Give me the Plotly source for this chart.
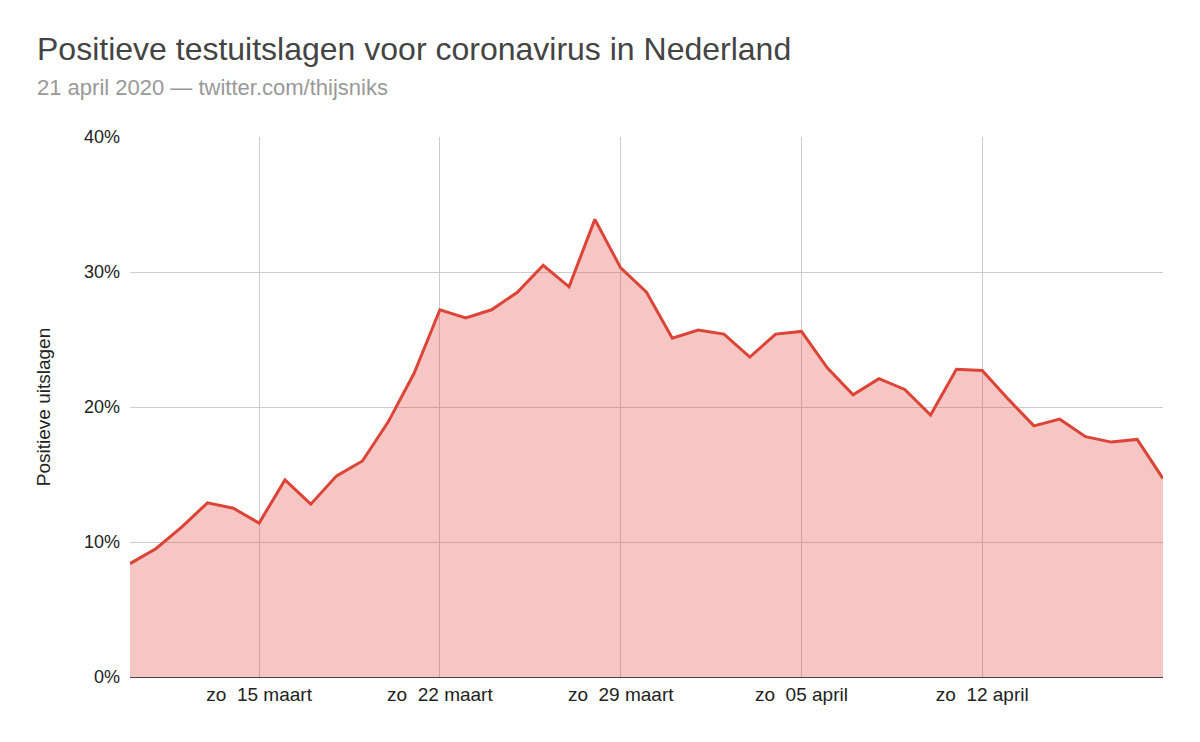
import plotly.graph_objects as go
import pandas as pd

# Data (percentage of positive tests per day)
dates = pd.date_range("2020-03-10", "2020-04-19", freq="D").strftime("%Y-%m-%d").tolist()
positive_pct = [
    8.4, 9.5, 11.1, 12.9, 12.5, 11.4, 14.6, 12.8, 14.9, 16.0,
    18.9, 22.5, 27.2, 26.6, 27.2, 28.5, 30.5, 28.9, 33.9, 30.3,
    28.5, 25.1, 25.7, 25.4, 23.7, 25.4, 25.6, 22.9, 20.9, 22.1,
    21.3, 19.4, 22.8, 22.7, 20.6, 18.6, 19.1, 17.8, 17.4, 17.6,
    14.7,
]
tick_dates = ["2020-03-15", "2020-03-22", "2020-03-29", "2020-04-05", "2020-04-12", "2020-04-19"]
tick_labels = ["zo\u00a0\u00a015 maart", "zo\u00a0\u00a022 maart", "zo\u00a0\u00a029 maart",
               "zo\u00a0\u00a005 april", "zo\u00a0\u00a012 april", ""]
y_ticks = [0, 10, 20, 30, 40]
y_tick_labels = ["0%", "10%", "20%", "30%", "40%"]

title_text = "Positieve testuitslagen voor coronavirus in Nederland"
subtitle_text = "21 april 2020 \u2014 twitter.com/thijsniks"
y_title = "Positieve uitslagen"

W, H = 1200, 742
L, R, T, B = 130, 37, 137, 65
plot_h = H - T - B

def py(px):
    return (H - B - px) / plot_h

fig = go.Figure()
fig.add_trace(go.Scatter(
    x=dates, y=positive_pct, mode="lines",
    line=dict(color="#db4437", width=3),
    fill="tozeroy", fillcolor="rgba(222,66,56,0.3)",
    hoverinfo="x+y",
))

font_family = "Arial, Liberation Sans, sans-serif"

fig.update_layout(
    width=W, height=H,
    margin=dict(l=L, r=R, t=T, b=B),
    paper_bgcolor="white", plot_bgcolor="white",
    showlegend=False,
    font=dict(family=font_family, color="#222"),
    xaxis=dict(
        type="date",
        range=[dates[0], dates[-1]],
        tickmode="array", tickvals=tick_dates, ticktext=tick_labels,
        showgrid=True, gridcolor="#cccccc", gridwidth=1,
        showline=True, linecolor="#444444", linewidth=1,
        ticks="", tickfont=dict(size=19, color="#222", family=font_family),
        zeroline=False, fixedrange=True,
    ),
    yaxis=dict(
        range=[0, 40],
        tickmode="array", tickvals=y_ticks, ticktext=y_tick_labels,
        showgrid=True, gridcolor="#cccccc", gridwidth=1,
        zeroline=False, showline=False,
        ticks="", ticklabelstandoff=9,
        tickfont=dict(size=18, color="#222", family=font_family),
        title=dict(text=y_title, font=dict(size=19, color="#222", family=font_family), standoff=28),
        fixedrange=True,
    ),
    annotations=[
        dict(text=title_text, xref="paper", yref="paper", x=(35 - L) / (W - L - R), y=py(49),
             xanchor="left", yanchor="middle", showarrow=False,
             font=dict(size=32, color="#444444", family=font_family)),
        dict(text=subtitle_text, xref="paper", yref="paper", x=(35 - L) / (W - L - R), y=py(88),
             xanchor="left", yanchor="middle", showarrow=False,
             font=dict(size=22, color="#999999", family=font_family)),
    ],
)

fig.write_html("out.html")
